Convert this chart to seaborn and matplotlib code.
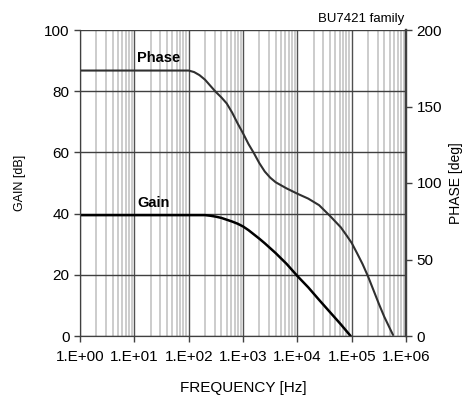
import numpy as np
import pandas as pd
import seaborn as sns
import matplotlib.pyplot as plt
from matplotlib.ticker import LogLocator, FixedLocator, FuncFormatter

# gain curve
gain_freq = [1, 10, 100, 200, 251, 316, 398, 501, 631, 794, 1000, 1259, 1585, 1995, 2512,
             3162, 3981, 6310, 10000, 15850, 25120, 39810, 63100, 95500]
gain_db = [39.5, 39.5, 39.5, 39.5, 39.3, 39.0, 38.6, 38.0, 37.4, 36.7, 35.8, 34.6, 33.2, 31.8,
           30.3, 28.7, 27.1, 23.6, 19.6, 15.9, 11.8, 7.8, 3.8, 0.0]

# phase curve
phase_freq = [1, 10, 100, 126, 158, 200, 251, 316, 398, 501, 631, 794, 1000, 1259, 1585,
              1995, 2512, 3162, 3981, 6310, 10000, 15850, 25120, 39810, 63100, 79430,
              100000, 125900, 158500, 199500, 251200, 316200, 398100, 575400]
phase_deg = [173.5, 173.5, 173.5, 172.5, 170.5, 167.5, 163.5, 159.5, 156, 152, 146, 139,
             132.5, 125.5, 119.5, 113, 107.5, 103.5, 100.5, 96.5, 93, 89.8, 85.5, 78.5, 71,
             66, 60.8, 54, 47, 39, 30, 21, 12.5, 0.7]

decade_labels = ['1.E+00', '1.E+01', '1.E+02', '1.E+03', '1.E+04', '1.E+05', '1.E+06']

sns.set_style('white')
plt.rcParams['font.family'] = ['Liberation Sans', 'DejaVu Sans']
plt.rcParams['font.size'] = 10
plt.rcParams['text.color'] = 'black'
plt.rcParams['axes.labelcolor'] = 'black'
plt.rcParams['xtick.color'] = 'black'
plt.rcParams['ytick.color'] = 'black'

fig = plt.figure(figsize=(4.63, 4.0), dpi=100)
ax = fig.add_axes([0.1728, 0.16, 0.7042, 0.765])

gain_df = pd.DataFrame({'freq': gain_freq, 'gain': gain_db})
phase_df = pd.DataFrame({'freq': phase_freq, 'phase': phase_deg})

ax.set_xscale('log')

# grid: light minor verticals, darker majors
ax.xaxis.set_major_locator(LogLocator(base=10, numticks=10))
ax.xaxis.set_minor_locator(LogLocator(base=10, subs=np.arange(2, 10), numticks=100))
ax.grid(which='minor', axis='x', color='#c8c8c8', linewidth=1.3)
ax.grid(which='major', axis='x', color='#505050', linewidth=1.0)
ax.yaxis.set_major_locator(FixedLocator([0, 20, 40, 60, 80, 100]))
ax.grid(which='major', axis='y', color='#404040', linewidth=1.0)
ax.set_axisbelow(True)

ax.xaxis.set_major_formatter(FuncFormatter(lambda v, p: decade_labels[int(round(np.log10(v)))]
                                           if 0 <= round(np.log10(v)) <= 6 else ''))

ax2 = ax.twinx()

sns.lineplot(data=gain_df, x='freq', y='gain', ax=ax, color='black', linewidth=1.8)
sns.lineplot(data=phase_df, x='freq', y='phase', ax=ax2, color='#303030', linewidth=1.5)

ax.set_xlim(1, 1e6)
ax.set_ylim(0, 100)
ax2.set_ylim(0, 200)
ax2.set_yticks([0, 50, 100, 150, 200])

for a in (ax, ax2):
    a.spines['top'].set_visible(False)
    a.spines['left'].set_color('#404040')
    a.spines['bottom'].set_color('#404040')
    a.spines['right'].set_color('#404040')
    a.spines['right'].set_linewidth(1.6)

ax.tick_params(axis='both', which='major', direction='out', length=4, width=1, color='#404040',
               labelsize=11, left=True, bottom=True)
ax.tick_params(axis='x', which='minor', length=0)
ax.tick_params(axis='x', pad=6)
ax2.tick_params(axis='y', direction='out', length=4, width=1, color='#404040', labelsize=11, right=True)

ax.set_xlabel('FREQUENCY [Hz]', fontsize=11, labelpad=12)
ax.set_ylabel('GAIN [dB]', fontsize=9, labelpad=13)
ax2.set_ylabel('PHASE [deg]', fontsize=10, labelpad=5)

ax.text(11.2, 89.5, 'Phase', fontsize=10.5, fontweight='bold', ha='left', va='baseline')
ax.text(11.2, 42.0, 'Gain', fontsize=10.5, fontweight='bold', ha='left', va='baseline')
fig.text(0.8726, 0.945, 'BU7421 family', fontsize=9.5, ha='right', va='baseline')

fig.savefig('out.png', dpi=100)
